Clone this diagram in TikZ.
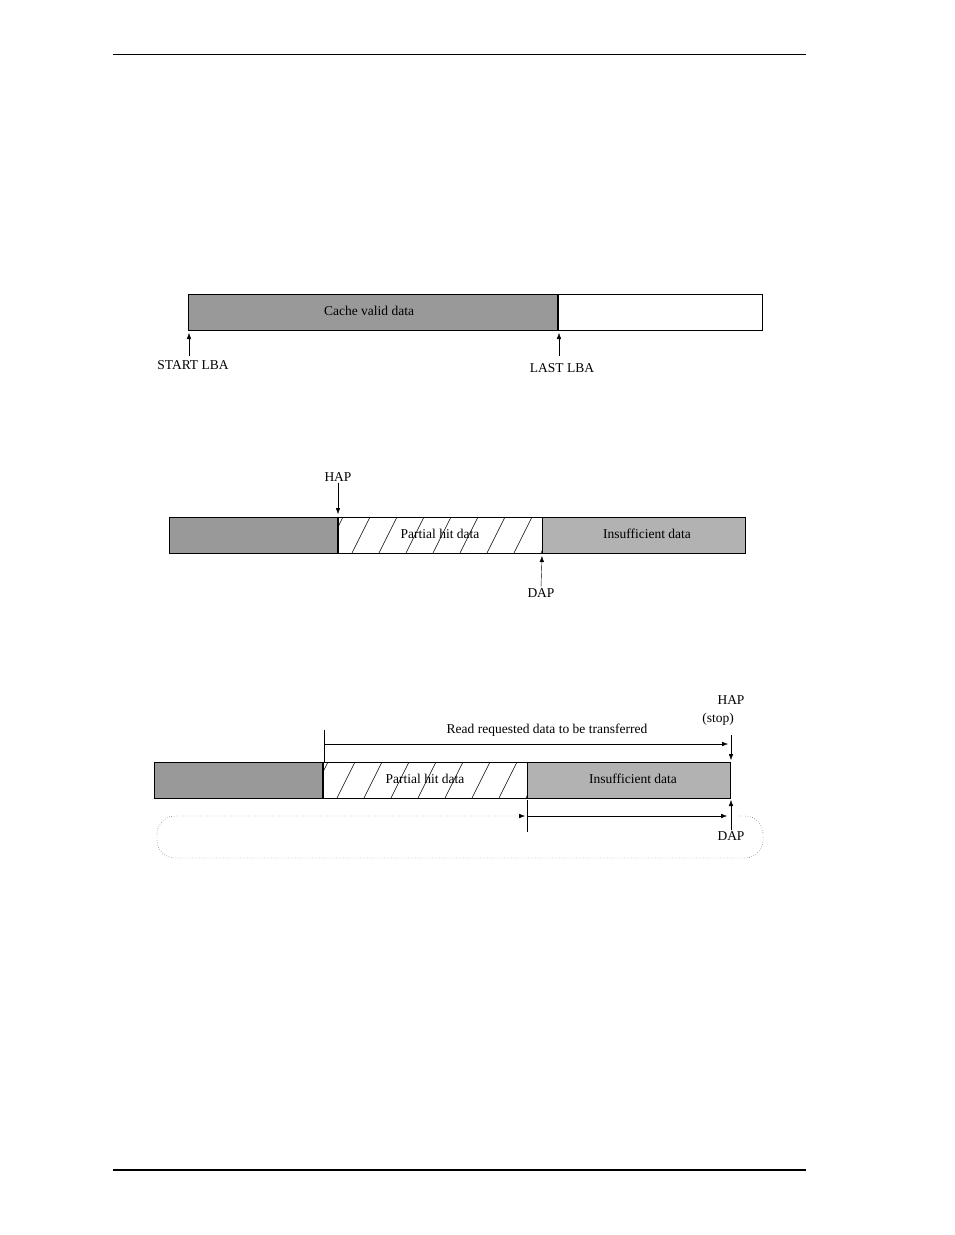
\documentclass[tikz,border=0pt]{standalone}
\usepackage{fontspec}
\setmainfont{Liberation Serif}
\usetikzlibrary{arrows.meta}
\usetikzlibrary{calc}

\definecolor{darkfill}{gray}{0.6}
\definecolor{lightfill}{gray}{0.7}
\tikzset{
	lbl/.style={font=\fontsize{13.5}{16}\selectfont,inner sep=1pt},
	bar/.style={draw,line width=0.8pt},
	hatch/.style={line width=0.5pt}
}
\newcommand{\hatchbox}[4]{% x1,y1,x2,y2
	\begin{scope}
		\clip (#1,#2) rectangle (#3,#4);
		\foreach \hx in {-40,-13,...,240} \draw[hatch] (#1+\hx,#4) -- (#1+\hx+18,#2);
	\end{scope}}

\begin{document}
\begin{tikzpicture}[x=1pt,y=-1pt,>/.tip={Latex[length=6pt,width=4.5pt]}]
	\useasboundingbox (0,0) rectangle (954,1235);
	\draw[line width=0.8pt] (113,54) -- (806,54);
	\draw[line width=1.8pt] (113,1170) -- (806,1170);

	% cache valid data
	\fill[darkfill] (188,294) rectangle (558,330);
	\draw[bar] (188,294) rectangle (762,330);
	\draw[line width=1.5pt] (558,294) -- (558,330);
	\node[lbl] (valid) at (369,311) {Cache valid data};
	\node[lbl] (start) at (193,365) {START LBA};
	\node[lbl] (last) at (562,368) {LAST LBA};
	\draw[->] (189,356) -- (189,333);
	\draw[->] (559,356) -- (559,333);

	% partial hit
	\fill[darkfill] (169,517) rectangle (338,553);
	\fill[lightfill] (542,517) rectangle (745,553);
	\hatchbox{338}{517}{542}{553}
	\draw[bar] (169,517) rectangle (745,553);
	\draw[line width=1.5pt] (338,517) -- (338,553);
	\draw (542,517) -- (542,553);
	\node[lbl] (phit) at (440,534) {Partial hit data};
	\node[lbl] (insuf) at (647,534) {Insufficient data};
	\node[lbl] (hap) at (338,477) {HAP};
	\node[lbl] (dap) at (541,593) {DAP};
	\draw[->] (hap.south) -- (338,514);
	\draw[->] (dap.north) -- (542,556);

	% read requested
	\fill[darkfill] (154,762) rectangle (323,798);
	\fill[lightfill] (527,762) rectangle (730,798);
	\hatchbox{323}{762}{527}{798}
	\draw[bar] (154,762) rectangle (730,798);
	\draw[line width=1.5pt] (323,762) -- (323,798);
	\draw (527,762) -- (527,798);
	\node[lbl] (phit2) at (425,779) {Partial hit data};
	\node[lbl] (insuf2) at (633,779) {Insufficient data};
	\node[lbl] (req) at (547,730) {Read requested data to be transferred};
	\node[lbl] (hap2) at (731,700) {HAP};
	\node[lbl] (stop) at (718,719) {(stop)};
	\node[lbl] (dap2) at (731,836) {DAP};
	\coordinate (rs) at (324,744);
	\coordinate (ds) at (527,816);
	\draw (324,730) -- (324,762);
	\draw[->] (rs) -- (728,744);
	\draw[->] (731,735) -- (731,760);
	\draw (527,800) -- (527,832);
	\draw[->] (ds) -- (727,816);
	\draw[->] (dap2.north) -- (731,800);
	\draw[dotted,rounded corners=18,->] (738,816) -- (763,816) -- (763,858) -- (157,858) -- (157,816) -- (525,816);
\end{tikzpicture}
\end{document}
